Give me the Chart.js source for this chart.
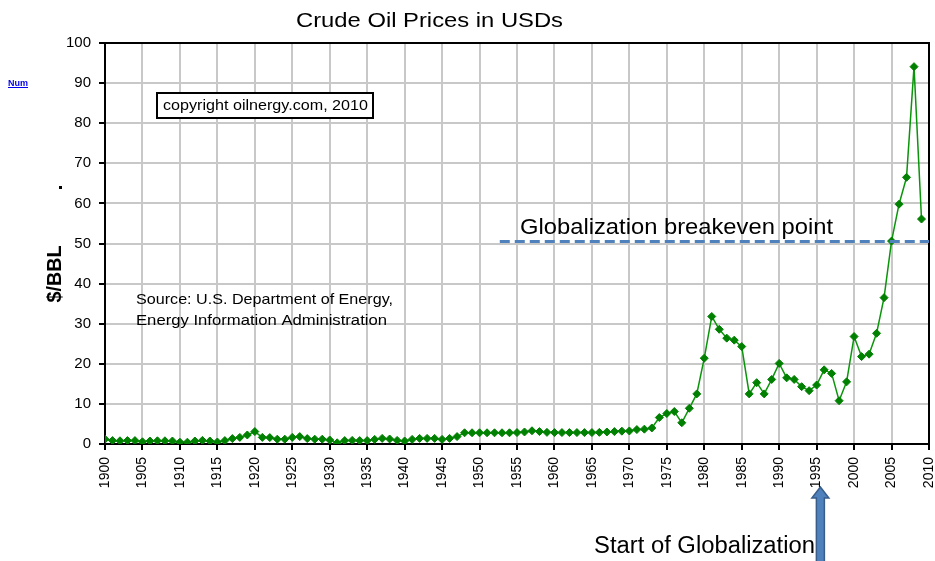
<!DOCTYPE html>
<html>
<head>
<meta charset="utf-8">
<title>Crude Oil Prices in USDs</title>
<script src="https://cdn.jsdelivr.net/npm/chart.js@4/dist/chart.umd.min.js"></script>
<style>
  html, body { margin: 0; padding: 0; background: #fff; }
  #chart { display: block; }
</style>
</head>
<body>
<canvas id="chart" width="935" height="561"></canvas>
<script>
// annual average crude price, $/BBL, one value per year starting 1900
const firstYear = 1900;
const prices = [
  1.2, 0.85, 0.8, 0.85, 0.85, 0.55, 0.75, 0.8, 0.8, 0.75,
  0.45, 0.45, 0.75, 0.9, 0.75, 0.5, 0.85, 1.35, 1.65, 2.25,
  3.1, 1.65, 1.6, 1.2, 1.2, 1.65, 1.85, 1.35, 1.2, 1.2,
  1.0, 0.3, 0.85, 0.9, 0.85, 0.85, 1.15, 1.4, 1.25, 0.9,
  0.75, 1.15, 1.4, 1.4, 1.4, 1.15, 1.4, 1.85, 2.8, 2.8,
  2.8, 2.8, 2.8, 2.8, 2.8, 2.85, 3.0, 3.3, 3.1, 2.9,
  2.85, 2.85, 2.85, 2.85, 2.85, 2.85, 2.9, 3.0, 3.1, 3.2,
  3.25, 3.6, 3.7, 4.0, 6.6, 7.6, 8.1, 5.3, 8.9, 12.5,
  21.4, 31.8, 28.6, 26.4, 25.9, 24.3, 12.5, 15.3, 12.5, 16.1,
  20.1, 16.5, 16.1, 14.3, 13.3, 14.7, 18.5, 17.6, 10.8, 15.5,
  26.8, 21.8, 22.4, 27.6, 36.5, 50.6, 59.8, 66.5, 94.1, 56.1
];

// axis ranges
const yearMin = 1900, yearMax = 2010, yearStep = 5;
const priceMin = 0, priceMax = 100, priceStep = 10;

// annotations
const breakevenPrice = 50.5;
const breakevenFrom = 1952.7;
const globalizationYear = 1995.5;

const FONT = '"Liberation Sans", Arial, sans-serif';

// draw text squeezed/stretched horizontally to a given width
function fitText(ctx, text, x, y, size, width, opts) {
  opts = opts || {};
  ctx.save();
  ctx.font = (opts.bold ? 'bold ' : '') + size + 'px ' + FONT;
  ctx.fillStyle = opts.color || '#000';
  ctx.textAlign = 'left';
  ctx.textBaseline = 'alphabetic';
  const natural = ctx.measureText(text).width;
  ctx.translate(x, y);
  ctx.scale(width / natural, 1);
  ctx.fillText(text, 0, 0);
  ctx.restore();
}

const frame = {
  id: 'frame',
  beforeDatasetsDraw(chart) {
    const a = chart.chartArea, ctx = chart.ctx;
    ctx.save();
    ctx.strokeStyle = '#000';
    ctx.lineWidth = 2;
    ctx.strokeRect(a.left, a.top, a.right - a.left, a.bottom - a.top);
    ctx.restore();
  }
};

const notes = {
  id: 'notes',
  afterDraw(chart) {
    const ctx = chart.ctx;
    const xs = chart.scales.x;

    fitText(ctx, 'Crude Oil Prices in USDs', 296, 27, 21, 267);

    // small link-style label on the far left
    ctx.save();
    ctx.font = 'bold 9px ' + FONT;
    ctx.fillStyle = '#0000ee';
    ctx.fillText('Num', 8, 86);
    ctx.fillRect(8, 87, ctx.measureText('Num').width, 1);
    ctx.restore();

    // stray point and axis title
    ctx.save();
    ctx.fillStyle = '#000';
    ctx.fillRect(59, 186, 3, 3);
    ctx.font = 'bold 19px ' + FONT;
    const t = '$/BBL';
    const w = ctx.measureText(t).width;
    ctx.translate(61, 274);
    ctx.rotate(-Math.PI / 2);
    ctx.scale(57 / w, 1.1);
    ctx.textAlign = 'center';
    ctx.fillText(t, 0, 0);
    ctx.restore();

    // copyright box
    ctx.save();
    ctx.fillStyle = '#fff';
    ctx.fillRect(157, 93, 216, 25);
    ctx.strokeStyle = '#000';
    ctx.lineWidth = 2;
    ctx.strokeRect(157, 93, 216, 25);
    ctx.restore();
    fitText(ctx, 'copyright oilnergy.com, 2010', 163, 110, 14, 205);

    fitText(ctx, 'Source: U.S. Department of Energy,', 136, 304, 15, 257);
    fitText(ctx, 'Energy Information Administration', 136, 325, 15, 251);

    fitText(ctx, 'Globalization breakeven point', 520, 234, 22, 313);

    // arrow pointing at the start of globalization
    const ax = xs.getPixelForValue(globalizationYear);
    ctx.save();
    ctx.beginPath();
    ctx.moveTo(ax, 487);
    ctx.lineTo(ax + 8.5, 498);
    ctx.lineTo(ax + 4, 498);
    ctx.lineTo(ax + 4, 570);
    ctx.lineTo(ax - 4, 570);
    ctx.lineTo(ax - 4, 498);
    ctx.lineTo(ax - 8.5, 498);
    ctx.closePath();
    ctx.fillStyle = '#4f81bd';
    ctx.fill();
    ctx.strokeStyle = '#385d8a';
    ctx.lineWidth = 1.5;
    ctx.stroke();
    ctx.restore();

    fitText(ctx, 'Start of Globalization', 594, 553, 23, 221);
  }
};

const priceData = prices.map((p, i) => ({ x: firstYear + i, y: p }));

new Chart(document.getElementById('chart'), {
  type: 'line',
  data: {
    datasets: [
      {
        label: 'Globalization breakeven point',
        data: [{ x: breakevenFrom, y: breakevenPrice }, { x: yearMax, y: breakevenPrice }],
        borderColor: '#4f81bd',
        borderWidth: 3,
        borderDash: [10, 5],
        pointRadius: 0,
        clip: false,
        order: 0
      },
      {
        label: 'Crude oil price',
        data: priceData,
        borderColor: '#0a950a',
        backgroundColor: '#008000',
        borderWidth: 1.5,
        pointStyle: 'rectRot',
        pointRadius: 4,
        pointBorderWidth: 1,
        pointBorderColor: '#008000',
        pointBackgroundColor: '#008000',
        order: 1
      }
    ]
  },
  options: {
    responsive: false,
    animation: false,
    devicePixelRatio: 1,
    layout: { padding: { top: 43, right: 6, left: 0, bottom: 0 } },
    plugins: {
      legend: { display: false },
      tooltip: { enabled: false }
    },
    scales: {
      x: {
        type: 'linear',
        min: yearMin,
        max: yearMax,
        afterFit(scale) {
          scale.height = 117;
          scale.paddingLeft = 0;
          scale.paddingRight = 0;
        },
        ticks: {
          stepSize: yearStep,
          autoSkip: false,
          maxRotation: 90,
          minRotation: 90,
          padding: 7,
          color: '#000',
          font: { family: FONT, size: 14 },
          callback: v => String(v)
        },
        grid: { color: '#c8c8c8', lineWidth: 2, tickColor: '#000', tickLength: 6, tickWidth: 2 },
        border: { color: '#000', width: 2 }
      },
      y: {
        min: priceMin,
        max: priceMax,
        afterFit(scale) {
          scale.width = 105;
          scale.paddingTop = 0;
          scale.paddingBottom = 0;
        },
        ticks: {
          stepSize: priceStep,
          padding: 8,
          color: '#000',
          font: { family: FONT, size: 15 }
        },
        grid: { color: '#c8c8c8', lineWidth: 2, tickColor: '#000', tickLength: 6, tickWidth: 2 },
        border: { color: '#000', width: 2 }
      }
    }
  },
  plugins: [frame, notes]
});
</script>
</body>
</html>
